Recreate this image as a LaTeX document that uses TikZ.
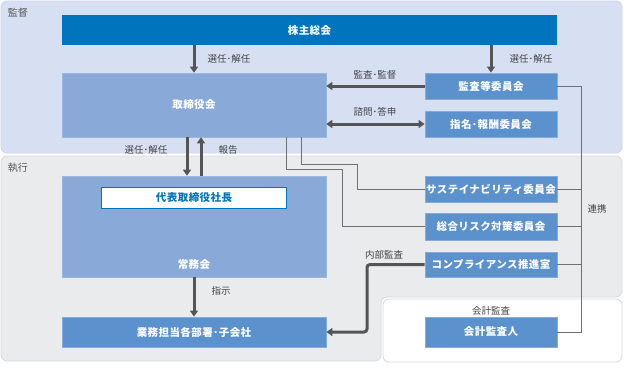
\documentclass[tikz,border=0pt]{standalone}
\usepackage{fontspec}
\setmainfont{Noto Sans CJK JP}
\newfontfamily\boxfont[LetterSpace=4]{Noto Sans CJK JP}
\usetikzlibrary{arrows.meta}
\definecolor{supbg}{HTML}{D7E0F2}
\definecolor{supbd}{HTML}{CDD5E8}
\definecolor{exebg}{HTML}{EAEBED}
\definecolor{exebd}{HTML}{D8D9DC}
\definecolor{darkblue}{HTML}{0075BE}
\definecolor{midblue}{HTML}{89AAD8}
\definecolor{boxblue}{HTML}{5B91CC}
\definecolor{boxbd}{HTML}{86AADA}
\definecolor{arrowgrey}{HTML}{555555}
\definecolor{linegrey}{HTML}{707070}
\definecolor{labelgrey}{HTML}{444444}
\tikzset{
  boxtext/.style={text=white,font=\boxfont\fontsize{10.5}{12}\selectfont\bfseries},
  basebox/.style={minimum width=132pt,inner sep=0pt,fill=boxblue,draw=boxbd,line width=0.8pt,boxtext},
  bigbox/.style={inner sep=0pt,fill=midblue,draw=midblue!85!white,line width=0.6pt,boxtext},
  lbl/.style={text=labelgrey,font=\fontsize{9.5}{11}\selectfont,inner sep=0pt},
  reglbl/.style={text=labelgrey!90!white,font=\fontsize{10}{12}\selectfont,inner sep=0pt},
  bigarrow/.style={draw=arrowgrey,line width=3pt,-{Triangle[length=6pt,width=8pt]}},
  biarrow/.style={draw=arrowgrey,line width=3pt,{Triangle[length=6pt,width=8pt]}-{Triangle[length=6pt,width=8pt]}},
  thinline/.style={draw=linegrey,line width=0.8pt},
}
\begin{document}
\begin{tikzpicture}[x=1pt,y=-1pt]
\useasboundingbox (0,0) rectangle (624,367);
% regions
\fill[supbg,draw=supbd,line width=0.8pt,rounded corners=6] (1,1) rectangle (622,153);
\fill[exebg,draw=exebd,line width=0.8pt,rounded corners=6] (1,156) -- (622,156) -- (622,297) -- (381,297) -- (381,361) -- (1,361) -- cycle;
\fill[white,draw=exebd,line width=0.8pt,rounded corners=6] (383,299) rectangle (622,362);
\node[reglbl] (lsup) at (18,13) {監督};
\node[reglbl] (lexe) at (18,168) {執行};
% boxes
\node[fill=darkblue,inner sep=0pt,minimum width=495pt,minimum height=30pt,boxtext] (soukai) at (309.5,30) {株主総会};
\node[bigbox,minimum width=264pt,minimum height=64pt] (tori) at (194,105) {取締役会};
\node[basebox,minimum height=26pt] (kansa) at (491,86) {監査等委員会};
\node[basebox,minimum height=26pt] (shimei) at (491,124) {指名･報酬委員会};
\node[bigbox,minimum width=264pt,minimum height=101pt] (joumu) at (194,226.5) {};
\node[boxtext,inner sep=0pt] (joumulbl) at (194,265) {常務会};
\node[fill=white,draw=darkblue,line width=0.8pt,minimum width=185pt,minimum height=21pt,inner sep=0pt,text=darkblue,font=\boxfont\fontsize{10.5}{12}\selectfont\bfseries] (shachou) at (194,197.5) {代表取締役社長};
\node[basebox,minimum width=264pt,minimum height=30pt] (gyoumu) at (194,332) {業務担当各部署･子会社};
\node[basebox,minimum height=26pt] (sustain) at (491,189) {サステイナビリティ委員会};
\node[basebox,minimum height=27pt] (risk) at (491,226.5) {総合リスク対策委員会};
\node[basebox,minimum height=25pt] (comp) at (491,264.5) {コンプライアンス推進室};
\node[basebox,minimum height=30pt] (kaikei) at (491,332) {会計監査人};
% thin connectors
\coordinate (rt) at (581,86);
\coordinate (rb) at (581,332);
\draw[thinline] (kansa.east) -- (rt) -- (rb) -- (kaikei.east);
\draw[thinline] (sustain.east) -- (sustain.east -| rt);
\draw[thinline] (risk.east) -- (risk.east -| rt);
\draw[thinline] (comp.east) -- (comp.east -| rt);
\coordinate (ta) at (286,137);
\coordinate (tb) at (301,137);
\draw[thinline] (ta) |- (342,169) |- (risk.west);
\draw[thinline] (tb) |- (357,164) |- (sustain.west);
% thick arrows
\draw[bigarrow] (soukai.south -| tori.north) -- (tori.north);
\draw[bigarrow] (soukai.south -| kansa.north) -- (kansa.north);
\draw[bigarrow] (kansa.west) -- (kansa.west -| tori.east);
\draw[biarrow] (shimei.west) -- (shimei.west -| tori.east);
\draw[bigarrow] ([xshift=-7pt]tori.south) -- ([xshift=-7pt]joumu.north);
\draw[bigarrow] ([xshift=7pt]joumu.north) -- ([xshift=7pt]tori.south);
\draw[bigarrow] (joumu.south) -- (gyoumu.north);
\draw[bigarrow,rounded corners=3pt] (comp.west) -- (367,264.5) |- (gyoumu.east);
% labels
\node[lbl] (l1) at (229,59) {選任･解任};
\node[lbl] (l2) at (531,59) {選任･解任};
\node[lbl] (l3) at (375,75) {監査･監督};
\node[lbl] (l4) at (375,112) {諮問･答申};
\node[lbl] (l5) at (146,150) {選任･解任};
\node[lbl] (l6) at (228,150) {報告};
\node[lbl] (l7) at (221,291) {指示};
\node[lbl] (l8) at (384,255) {内部監査};
\node[lbl] (l9) at (491,311) {会計監査};
\node[lbl] (l10) at (597,209) {連携};
\end{tikzpicture}
\end{document}
